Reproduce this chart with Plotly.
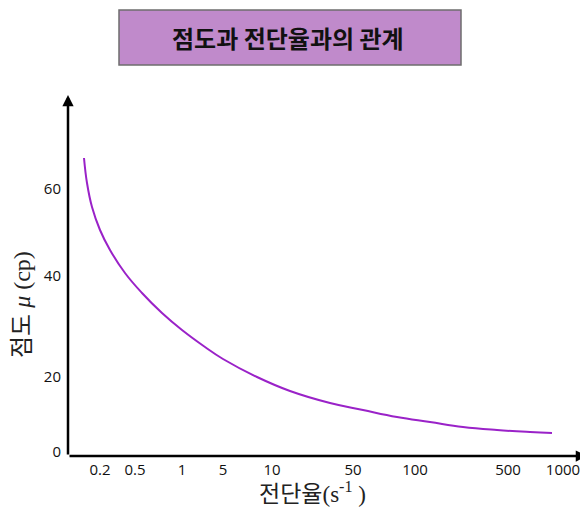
import plotly.graph_objects as go

# Curve (axis position units)
curve_x = [16, 19, 24, 32, 42, 57, 74, 94, 114, 137, 155, 189, 222, 262, 295, 329, 362, 395, 429, 462, 484]
curve_y = [298, 273, 249, 226, 206, 183, 163, 143, 126, 109, 97, 79, 65, 53, 46, 39, 34, 29, 26, 24, 23]

# Tick positions and labels (schematic, irregular spacing)
x_tick_pos = [32, 67, 114, 155, 204, 285, 347, 440, 495]
x_tick_text = ["0.2", "0.5", "1", "5", "10", "50", "100", "500", "1000"]
y_tick_pos = [4, 79, 180, 267]
y_tick_text = ["0", "20", "40", "60"]

title_text = "점도과 전단율과의 관계"
x_label = "전단율(s<sup>-1</sup> )"
y_label = "점도 <i>μ</i> (cp)"

# page has an 8px body margin; figure drawn at (8, 8)
OFF = 8
W, H = 588 - OFF, 512 - OFF
L, R, T, B = 60, 1, 87, 56
PW, PH = W - L - R, H - T - B


def px(x):  # reference pixel x -> paper
    return (x - OFF - L) / PW


def py(y):  # reference pixel y -> paper
    return (H - B - (y - OFF)) / PH


fig = go.Figure()
fig.add_trace(go.Scatter(
    x=curve_x, y=curve_y, mode="lines",
    line=dict(color="#9A22C8", width=2, shape="spline", smoothing=1.2),
    hoverinfo="skip", showlegend=False,
))

tickfont = dict(family="Open Sans, DejaVu Sans, sans-serif", size=15, color="#111")
fig.update_layout(
    width=W, height=H,
    margin=dict(l=L, r=R, t=T, b=B, pad=0),
    paper_bgcolor="white", plot_bgcolor="white",
    showlegend=False,
    xaxis=dict(range=[0, PW], tickmode="array", tickvals=x_tick_pos, ticktext=x_tick_text,
               showgrid=False, zeroline=False, showline=False, ticks="",
               tickfont=tickfont, ticklabelstandoff=3, fixedrange=True),
    yaxis=dict(range=[0, PH], tickmode="array", tickvals=y_tick_pos, ticktext=y_tick_text,
               showgrid=False, zeroline=False, showline=False, ticks="",
               tickfont=tickfont, ticklabelstandoff=6, fixedrange=True),
)

# Axis lines with arrowheads
fig.add_annotation(xref="paper", yref="paper", x=0, y=1, ax=0, ay=PH, axref="pixel", ayref="pixel",
                   showarrow=True, arrowhead=2, arrowsize=0.9, arrowwidth=2.5, arrowcolor="black", text="")
fig.add_annotation(xref="paper", yref="paper", x=1, y=0, ax=-PW, ay=0, axref="pixel", ayref="pixel",
                   showarrow=True, arrowhead=2, arrowsize=0.9, arrowwidth=2.5, arrowcolor="black", text="")

# Title box
fig.add_shape(type="rect", xref="paper", yref="paper",
              x0=px(119), x1=px(461), y0=py(65), y1=py(10),
              fillcolor="#C08ACB", line=dict(color="#6E6E6E", width=1.5), layer="above")
fig.add_annotation(xref="paper", yref="paper", x=px(288), y=py(38),
                   text="<b>" + title_text + "</b>", showarrow=False,
                   font=dict(family="Noto Sans CJK KR", size=24, color="#111"),
                   xanchor="center", yanchor="middle")

# Axis titles
fig.add_annotation(xref="paper", yref="paper", x=px(312), y=py(493),
                   text=x_label, showarrow=False,
                   font=dict(family="Liberation Serif, Noto Sans CJK KR", size=23, color="#222"),
                   xanchor="center", yanchor="middle")
fig.add_annotation(xref="paper", yref="paper", x=px(22), y=py(305),
                   text=y_label, showarrow=False, textangle=-90,
                   font=dict(family="Liberation Serif, Noto Sans CJK KR", size=24, color="#222"),
                   xanchor="center", yanchor="middle")

fig.write_html("out.html")
